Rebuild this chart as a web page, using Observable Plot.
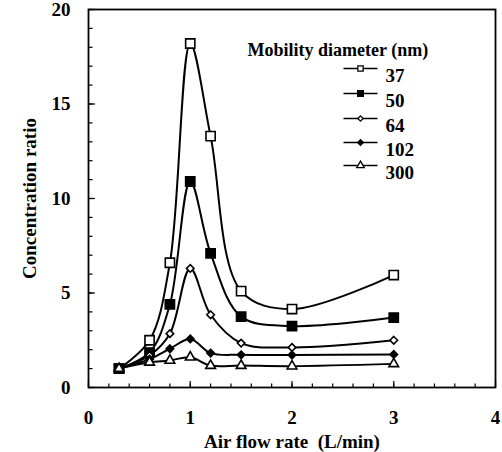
<!DOCTYPE html>
<html><head><meta charset="utf-8">
<script src="https://cdn.jsdelivr.net/npm/d3@7"></script>
<script src="https://cdn.jsdelivr.net/npm/@observablehq/plot@0.6"></script>
<style>
body{margin:0;background:#fff}
#chart svg, #chart svg text{font-family:"Liberation Serif","Times New Roman",serif !important;font-weight:bold}
#chart svg{background:#fff}
</style>
</head><body><div id="chart"></div>
<script>
const flowRates = [0.3, 0.6, 0.8, 1.0, 1.2, 1.5, 2.0, 3.0];
const d37  = [1.0, 2.5, 6.6, 18.2, 13.3, 5.1, 4.15, 5.95];
const d50  = [1.0, 1.85, 4.4, 10.9, 7.1, 3.75, 3.25, 3.7];
const d64  = [1.0, 1.7, 2.85, 6.3, 3.85, 2.35, 2.12, 2.5];
const d102 = [1.0, 1.5, 2.05, 2.57, 1.82, 1.73, 1.72, 1.75];
const d300 = [1.0, 1.33, 1.43, 1.6, 1.16, 1.16, 1.13, 1.25];
const seriesNames = ["37", "50", "64", "102", "300"];
const seriesValues = [d37, d50, d64, d102, d300];
const xTicks = [0, 1, 2, 3, 4];
const yTicks = [0, 5, 10, 15, 20];
const legendTitle = "Mobility diameter (nm)";

const styles = {
  "37":  {symbol: "square", fill: "white", r: 5.2, lr: 3},
  "50":  {symbol: "square", fill: "black", r: 5.2, lr: 3.2},
  "64":  {symbol: "diamond2", fill: "white", r: 3.4, lr: 2.4},
  "102": {symbol: "diamond2", fill: "black", r: 3.4, lr: 2.6},
  "300": {symbol: "triangle", fill: "white", r: 3.6, lr: 2.8}
};

const data = seriesNames.flatMap((s, i) =>
  flowRates.map((x, j) => ({series: s, x, y: seriesValues[i][j]})));

const legendDy = [59, 84, 109, 133, 156];

// a horizontal line segment used as the legend swatch
const legendLine = {draw(context) { context.moveTo(-17, 0); context.lineTo(17, 0); }};

const marks = [
  Plot.frame({stroke: "black", strokeWidth: 1.8}),
  Plot.axisY({ticks: yTicks, tickSize: 0, tickPadding: 18, fontSize: 19, label: "Concentration ratio", labelAnchor: "center", labelArrow: "none", labelOffset: 66}),
  Plot.axisY({ticks: d3.range(0, 21, 1), tickSize: -4.5, text: null, label: null, strokeWidth: 1.2}),
  Plot.axisY({ticks: yTicks, tickSize: -7, text: null, label: null, strokeWidth: 1.2}),
  Plot.axisX({ticks: xTicks, tickSize: 0, tickPadding: 23, fontSize: 19, tickFormat: d => String(d), label: "Air flow rate  (L/min)", labelAnchor: "center", labelArrow: "none", labelOffset: 60}),
  Plot.axisX({ticks: d3.range(0, 4.01, 0.2), tickSize: -3.5, text: null, label: null, strokeWidth: 1.2}),
  Plot.axisX({ticks: xTicks, tickSize: -6, text: null, label: null, strokeWidth: 1.2}),
  ...seriesNames.map(s => Plot.line(data.filter(d => d.series === s), {x: "x", y: "y", curve: "catmull-rom", stroke: "black", strokeWidth: 2})),
  ...seriesNames.map(s => Plot.dot(data.filter(d => d.series === s), {x: "x", y: "y", symbol: () => styles[s].symbol, r: styles[s].r, fill: styles[s].fill, stroke: "black", strokeWidth: 1.6})),
  Plot.text([legendTitle], {frameAnchor: "top-left", dx: 159, dy: 34, text: d => d, textAnchor: "start", fontSize: 18, fontWeight: "bold"})
];

seriesNames.forEach((s, i) => {
  marks.push(Plot.dot([s], {frameAnchor: "top-left", dx: 272, dy: legendDy[i], symbol: () => legendLine, r: 3, fill: "none", stroke: "black", strokeWidth: 1.6}));
  marks.push(Plot.dot([s], {frameAnchor: "top-left", dx: 272, dy: legendDy[i], symbol: () => styles[s].symbol, r: styles[s].lr, fill: styles[s].fill, stroke: "black", strokeWidth: 1.3}));
  marks.push(Plot.text([s], {frameAnchor: "top-left", dx: 297, dy: legendDy[i], text: d => d, textAnchor: "start", fontSize: 19, fontWeight: "bold"}));
});

const chart = Plot.plot({
  width: 502,
  height: 452,
  marginLeft: 88,
  marginRight: 7,
  marginTop: 9,
  marginBottom: 65,
  x: {domain: [0, 4]},
  y: {domain: [0, 20]},
  symbol: {type: "identity"},
  style: {color: "black", background: "white"},
  marks
});
chart.style.fontFamily = '"Liberation Serif", "Times New Roman", serif';
document.getElementById("chart").appendChild(chart);
</script>
</body></html>
